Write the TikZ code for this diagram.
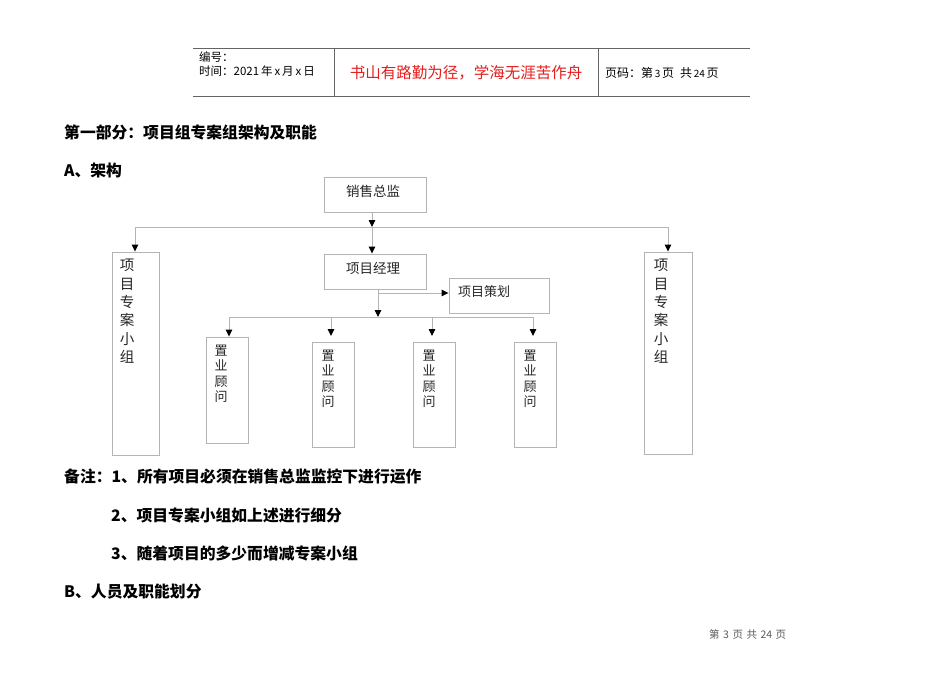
\documentclass[tikz,border=0pt]{standalone}
\usepackage{fontspec}
\setmainfont{Noto Sans CJK SC}
\usetikzlibrary{arrows.meta,calc}
\definecolor{lg}{RGB}{180,180,180}
\definecolor{hd}{RGB}{100,100,100}
\definecolor{rd}{RGB}{228,30,30}
\definecolor{ft}{RGB}{90,90,90}
\begin{document}
\begin{tikzpicture}[x=1pt,y=-1pt,
  box/.style={draw=lg,line width=0.9pt,rectangle,inner sep=0pt},
  conn/.style={draw=lg,line width=0.9pt,-{Triangle[width=6.5pt,length=7pt,color=black]}},
  plain/.style={draw=lg,line width=0.9pt},
  hline/.style={draw=hd,line width=0.8pt},
  lbl/.style={inner sep=0pt,font=\fontsize{13.5}{16}\selectfont,text=black!85},
  vt/.style={inner sep=0pt,align=center,anchor=north,text=black!85},
  hdr/.style={inner sep=0pt,anchor=west,font=\fontsize{11.5}{13}\selectfont},
  head/.style={inner sep=0pt,anchor=west,font=\fontsize{15.8}{18}\selectfont\bfseries}]
\useasboundingbox[fill=white] (0,0) rectangle (950,672);

% header table
\draw[hline] (193,48) -- (750,48);
\draw[hline] (193,96) -- (750,96);
\draw[hline] (334,48) -- (334,96);
\draw[hline] (598,48) -- (598,96);
\node[hdr] (bh) at (199,57) {编号：};
\node[hdr] (sj) at (199,71) {时间：2021\,年\,x\,月\,x\,日};
\node[inner sep=0pt,text=rd,font=\fontsize{15.5}{18}\selectfont] (motto) at (466,73) {书山有路勤为径，学海无涯苦作舟};
\node[hdr,font=\fontsize{12}{14}\selectfont] (ym) at (605,73) {页码：第{\fontsize{10}{11}\selectfont\,3\,}页\,\,\,共{\fontsize{10}{11}\selectfont\,24\,}页};

% headings
\node[head] (t1) at (64,132) {第一部分：项目组专案组架构及职能};
\node[head] (t2) at (64,171) {A、架构};

% boxes
\node[box,minimum width=102,minimum height=35] (zong) at (375,194.5) {};
\node[box,minimum width=102,minimum height=35] (jl) at (375,271.5) {};
\node[box,minimum width=100,minimum height=35] (ch) at (499,295.5) {};
\node[box,minimum width=47,minimum height=203] (L) at (135.5,353.5) {};
\node[box,minimum width=48,minimum height=202] (R) at (668,353) {};
\node[box,minimum width=42,minimum height=106] (g1) at (227,390) {};
\node[box,minimum width=42,minimum height=105] (g2) at (333,394.5) {};
\node[box,minimum width=42,minimum height=105] (g3) at (434,394.5) {};
\node[box,minimum width=42,minimum height=105] (g4) at (535,394.5) {};

% labels
\node[lbl] (tz) at (373,191) {销售总监};
\node[lbl] (tj) at (373,268) {项目经理};
\node[lbl,font=\fontsize{13}{15}\selectfont] (tc) at (484,292) {项目策划};
\node[vt,font=\fontsize{14.5}{18.4}\selectfont] (tL) at (127,259) {项\\目\\专\\案\\小\\组};
\node[vt,font=\fontsize{14.5}{18.4}\selectfont] (tR) at (661,259) {项\\目\\专\\案\\小\\组};
\node[vt,font=\fontsize{13}{15.3}\selectfont] (t1g) at (221,345) {置\\业\\顾\\问};
\node[vt,font=\fontsize{13}{15.3}\selectfont] (t2g) at (328,350) {置\\业\\顾\\问};
\node[vt,font=\fontsize{13}{15.3}\selectfont] (t3g) at (429,350) {置\\业\\顾\\问};
\node[vt,font=\fontsize{13}{15.3}\selectfont] (t4g) at (530,350) {置\\业\\顾\\问};

% connector points
\coordinate (bus) at (372,227);
\coordinate (busL) at (135,227);
\coordinate (busR) at (668,227);
\coordinate (jb) at (378,289);
\coordinate (br) at (378,293);
\coordinate (bus2) at (378,317);
\coordinate (b2L) at (229,317);
\coordinate (b2R) at (533,317);
\coordinate (tipy) at (0,336);

\draw[conn] (zong.south -| bus) -- (bus);
\draw[plain] (busL) -- (busR);
\draw[conn] (bus) -- (jl.north -| bus);
\draw[conn] (busL) -- (L.north -| busL);
\draw[conn] (busR) -- (R.north -| busR);
\draw[conn] (jl.south -| jb) -- (bus2);
\draw[conn] (br) -- (ch.west |- br);
\draw[plain] (b2L) -- (b2R);
\draw[conn] (b2L) -- (b2L |- g1.north);
\draw[conn] (g2.north |- bus2) ++(-2,0) coordinate (x2) -- (x2 |- tipy);
\draw[conn] (g3.north |- bus2) ++(-2,0) coordinate (x3) -- (x3 |- tipy);
\draw[conn] (b2R) -- (b2R |- tipy);

% notes
\node[head] (n1) at (64,477) {备注：1、所有项目必须在销售总监监控下进行运作};
\node[head] (n2) at (111,515) {2、项目专案小组如上述进行细分};
\node[head] (n3) at (111,553) {3、随着项目的多少而增减专案小组};
\node[head] (n4) at (64,592) {B、人员及职能划分};

% footer
\node[inner sep=0pt,anchor=west,text=ft,font=\fontsize{10.5}{12}\selectfont] (foot) at (709,634) {第\,\,3\,\,页\,\,共\,\,24\,\,页};
\end{tikzpicture}
\end{document}
